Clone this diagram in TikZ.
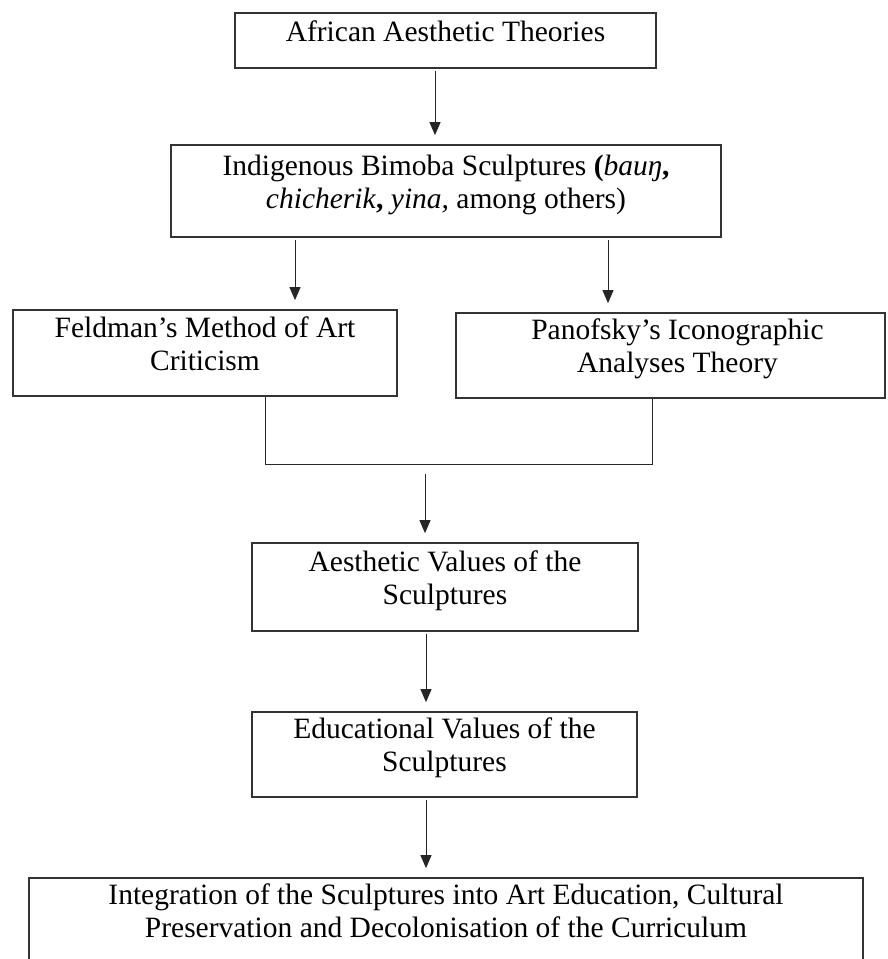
\documentclass[tikz,border=0pt]{standalone}
\usepackage{fontspec}
\setmainfont{Liberation Serif}
\usetikzlibrary{arrows.meta}
\usetikzlibrary{positioning}
\newcommand{\dropstrut}{\rule[-19pt]{0pt}{19pt}}
\tikzset{box/.style = {draw=black!80, line width=1.7pt, align=center, inner sep=0pt,
                       font=\fontsize{29.5}{33}\selectfont}}
\tikzset{arr/.style = {-{Triangle[width=11pt,length=13pt]}, line width=0.9pt,
                       draw=black!85, shorten >=9pt, shorten <=2pt}}
\tikzset{link/.style = {line width=0.9pt, draw=black!85}}

\begin{document}
\begin{tikzpicture}[x=1pt, y=-1pt]
      \useasboundingbox (0,0) rectangle (887,959);
      \clip (0,0) rectangle (887,959);

      \node [box, minimum width=421pt, minimum height=55pt] (theories) at (445.5,40.5)
            {African Aesthetic Theories\dropstrut};
      \node [box, minimum width=550pt, minimum height=92pt] (bimoba) at (446,191)
            {Indigenous Bimoba Sculptures \textbf{(}\textit{bauŋ}\textbf{,}\\
             \textit{chicherik}\textbf{,} \textit{yina,} among others)\dropstrut};
      \node [box, minimum width=384pt, minimum height=86pt] (feldman) at (205,353)
            {Feldman’s Method of Art\\ Criticism\dropstrut};
      \node [box, minimum width=429pt, minimum height=85pt] (panofsky) at (670.5,355.5)
            {\hspace*{14pt}Panofsky’s Iconographic\\ \hspace*{14pt}Analyses Theory\dropstrut};
      \node [box, minimum width=386pt, minimum height=88pt] (aesthetic) at (445,587)
            {Aesthetic Values of the\\ Sculptures\dropstrut};
      \node [box, minimum width=385pt, minimum height=85pt] (educational) at (444.5,754.5)
            {Educational Values of the\\ Sculptures\dropstrut};
      \node [box, minimum width=834pt, minimum height=84pt] (integration) at (446,920)
            {Integration of the Sculptures into Art Education, Cultural\\
             Preservation and Decolonisation of the Curriculum\dropstrut};

      \coordinate (t-out) at ([xshift=-10.5pt]theories.south);
      \coordinate (f-in) at ([xshift=90pt]feldman.north);
      \coordinate (p-in) at ([xshift=-62.5pt]panofsky.north);
      \coordinate (f-out) at ([xshift=60pt]feldman.south);
      \coordinate (p-out) at ([xshift=-18.5pt]panofsky.south);
      \coordinate (join) at (445,464);
      \coordinate (merge) at (425,472);

      \draw [arr] (t-out) -- (t-out |- bimoba.north);
      \draw [arr] (bimoba.south -| f-in) -- (f-in);
      \draw [arr] (bimoba.south -| p-in) -- (p-in);

      % both theories meet on one line, then lead down
      \draw [link] (f-out) -- (f-out |- join) -- (p-out |- join) -- (p-out);
      \draw [arr] (merge) -- (merge |- aesthetic.north);

      \draw [arr] ([xshift=-19pt]aesthetic.south) -- ([xshift=-18.5pt]educational.north);
      \draw [arr] ([xshift=-18.5pt]educational.south) -- ([xshift=-20pt]integration.north);
\end{tikzpicture}
\end{document}
